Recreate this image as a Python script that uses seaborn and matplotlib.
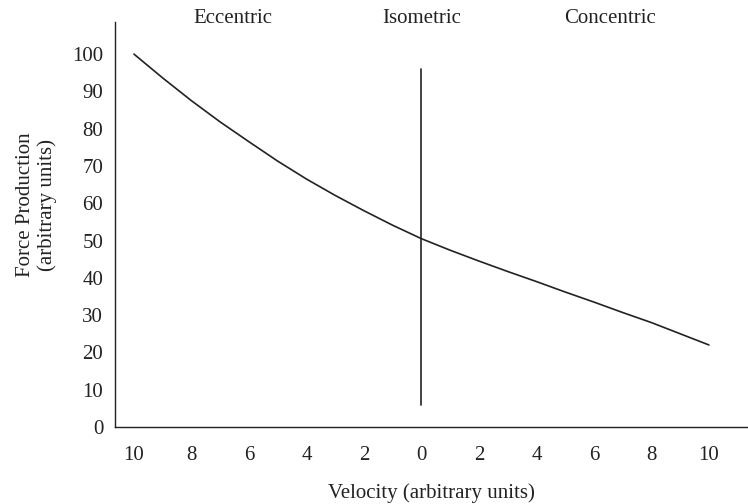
import numpy as np
import pandas as pd
import matplotlib
matplotlib.use('Agg')
import matplotlib.pyplot as plt
import seaborn as sns

# Veri
hiz = [-10, -9, -8, -7, -6, -5, -4, -3, -2, -1, 0, 1, 2, 3, 4, 5, 6, 7, 8, 9, 10]
kuvvet = [100, 93.6, 87.5, 81.8, 76.5, 71.3, 66.5, 62.1, 58, 54.1, 50.5,
          47.4, 44.5, 41.7, 39, 36.2, 33.5, 30.7, 28, 25, 22]
izometrik_x = [0, 0]
izometrik_y = [6, 96]
bolge_adlari = ['Eccentric', 'Isometric', 'Concentric']
bolge_x = [-6.55, 0, 6.55]
x_ticks = [-10, -8, -6, -4, -2, 0, 2, 4, 6, 8, 10]
x_tick_labels = ['10', '8', '6', '4', '2', '0', '2', '4', '6', '8', '10']
y_ticks = list(range(0, 101, 10))

# Stil
sns.set_theme(style='white')
plt.rcParams['font.family'] = ['Liberation Serif', 'DejaVu Serif']
plt.rcParams['font.size'] = 15

fig = plt.figure(figsize=(7.48, 5.04), dpi=100)
ax = fig.add_axes([0.1537, 0.1528, 0.8463, 0.8035])

df = pd.DataFrame({'hiz': hiz, 'kuvvet': kuvvet})
sns.lineplot(data=df, x='hiz', y='kuvvet', ax=ax, color='#222222', linewidth=1.2)
# dikey izometrik çizgi (tahmin/ci yok)
sns.lineplot(x=izometrik_x, y=izometrik_y, ax=ax, color='#222222', linewidth=1.2,
             estimator=None, sort=False)

ax.set_xlim(-10.66, 11.36)
ax.set_ylim(0, 108.6)
ax.set_xticks(x_ticks)
ax.set_xticklabels(x_tick_labels)
ax.set_yticks(y_ticks)
ax.tick_params(axis='both', length=0, labelsize=15, colors='#222222')
ax.tick_params(axis='x', pad=14)
ax.tick_params(axis='y', pad=8.5)

for s in ['top', 'right']:
    ax.spines[s].set_visible(False)
for s in ['left', 'bottom']:
    ax.spines[s].set_color('#222222')
    ax.spines[s].set_linewidth(1.0)

for ad, xk in zip(bolge_adlari, bolge_x):
    ax.text(xk, 109.6, ad, ha='center', va='center', fontsize=15, color='#222222', clip_on=False)

ax.set_xlabel('Velocity (arbitrary units)', fontsize=15, color='#222222', labelpad=13)
ax.set_ylabel('Force Production\n(arbitrary units)', fontsize=15, color='#222222', labelpad=11,
              linespacing=1.15)
ax.yaxis.label.set_y(0.548)

fig.savefig('out.png', dpi=100)
